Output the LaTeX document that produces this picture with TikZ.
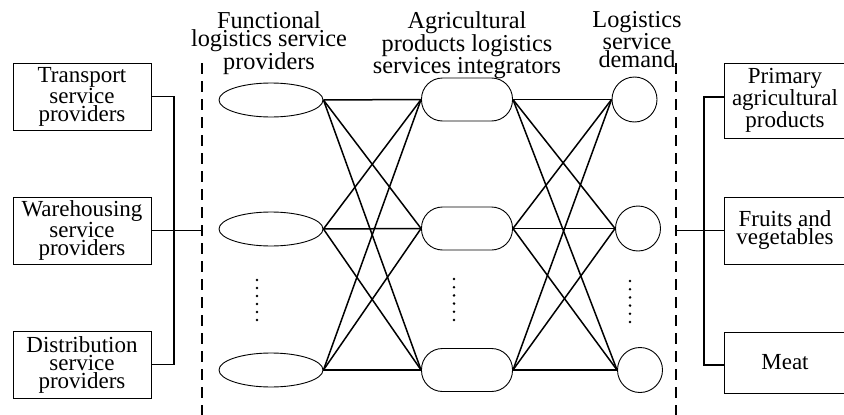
\documentclass[tikz,border=0pt]{standalone}
\usepackage{fontspec}
\setmainfont{Liberation Serif}
\usetikzlibrary{shapes.geometric}
\newcommand\dgfont{\fontsize{23}{18}\selectfont}
\newcommand\hdfont{\fontsize{24.3}{18}\selectfont}
\begin{document}
\begin{tikzpicture}[x=1pt,y=-1pt,
  box/.style={draw, line width=0.9pt, minimum width=138pt, minimum height=67pt, inner sep=0pt, align=center, font=\dgfont},
  rbox/.style={draw, line width=0.9pt, minimum width=122pt, inner sep=0pt, align=center, font=\dgfont},
  ell/.style={draw, ellipse, line width=0.9pt, minimum width=104pt, minimum height=34pt, inner sep=0pt},
  integ/.style={draw, rectangle, rounded corners=21pt, line width=0.9pt, minimum width=91pt, minimum height=43pt, inner sep=0pt},
  circ/.style={draw, circle, line width=0.9pt, minimum size=45pt, inner sep=0pt},
  head/.style={align=center, inner sep=0pt, anchor=north, font=\hdfont},
  link/.style={line width=1.5pt},
  dashline/.style={dashed, dash pattern=on 11pt off 7pt, line width=1.4pt},
  dot/.style={fill=black}
]
\useasboundingbox (0,0) rectangle (844,415);
\clip (0,0) rectangle (844,415);

% headers
\node[head] (h1) at (269,11) {Functional\\logistics service\\providers};
\node[head] (h2) at (467,11) {Agricultural\\products logistics\\services integrators};
\node[head] (h3) at (637,11) {Logistics\\service\\demand};

% left boxes
\node[box] (L1) at (82,96.5) {Transport\\service\\providers};
\node[box] (L2) at (82,230.5) {Warehousing\\service\\providers};
\node[box] (L3) at (82,364.5) {Distribution\\service\\providers};

% right boxes
\node[rbox, minimum height=75pt] (R1) at (785,100.5) {Primary\\agricultural\\products};
\node[rbox, minimum height=67pt] (R2) at (785,230.5) {Fruits and\\vegetables};
\node[rbox, minimum height=61pt] (R3) at (785,362.5) {Meat};

% columns
\node[ell] (E1) at (271,100) {};
\node[ell] (E2) at (271,229) {};
\node[ell] (E3) at (271,370) {};
\node[integ] (I1) at (467,99.5) {};
\node[integ] (I2) at (467,228.5) {};
\node[integ] (I3) at (467,370) {};
\node[circ] (C1) at (634.5,99.5) {};
\node[circ] (C2) at (638,228.5) {};
\node[circ] (C3) at (640,370) {};

% full connections
\foreach \i in {1,2,3}{
  \foreach \j in {1,2,3}{
    \draw[link] (E\i.east) -- (I\j.west);
    \draw[link] (I\i.east) -- (C\j.west);
  }
}

% dots
\foreach \k in {0,...,5}{
  \fill[dot] (257,280+8*\k) circle (1.4pt);
  \fill[dot] (454,279+8.2*\k) circle (1.4pt);
  \fill[dot] (630,281+8.2*\k) circle (1.4pt);
}

% dashed separators
\coordinate (dlt) at (202,63);
\coordinate (dlb) at (202,418);
\coordinate (drt) at (676,63);
\coordinate (drb) at (676,418);
\draw[dashline] (dlt) -- (dlb);
\draw[dashline] (drt) -- (drb);

% left bus
\coordinate (lb1) at (174,96.5);
\coordinate (lb3) at (174,364.5);
\coordinate (ld) at (202,230.5);
\draw[link] (L1.east) -- (lb1) -- (lb3) -- (L3.east);
\draw[link] (L2.east) -- (ld);

% right bus
\coordinate (rb1) at (704,97);
\coordinate (rb3) at (704,365);
\coordinate (rd) at (676,230.5);
\draw[link] (R1.west |- rb1) -- (rb1) -- (rb3) -- (R3.west |- rb3);
\draw[link] (rd) -- (R2.west);
\end{tikzpicture}
\end{document}
